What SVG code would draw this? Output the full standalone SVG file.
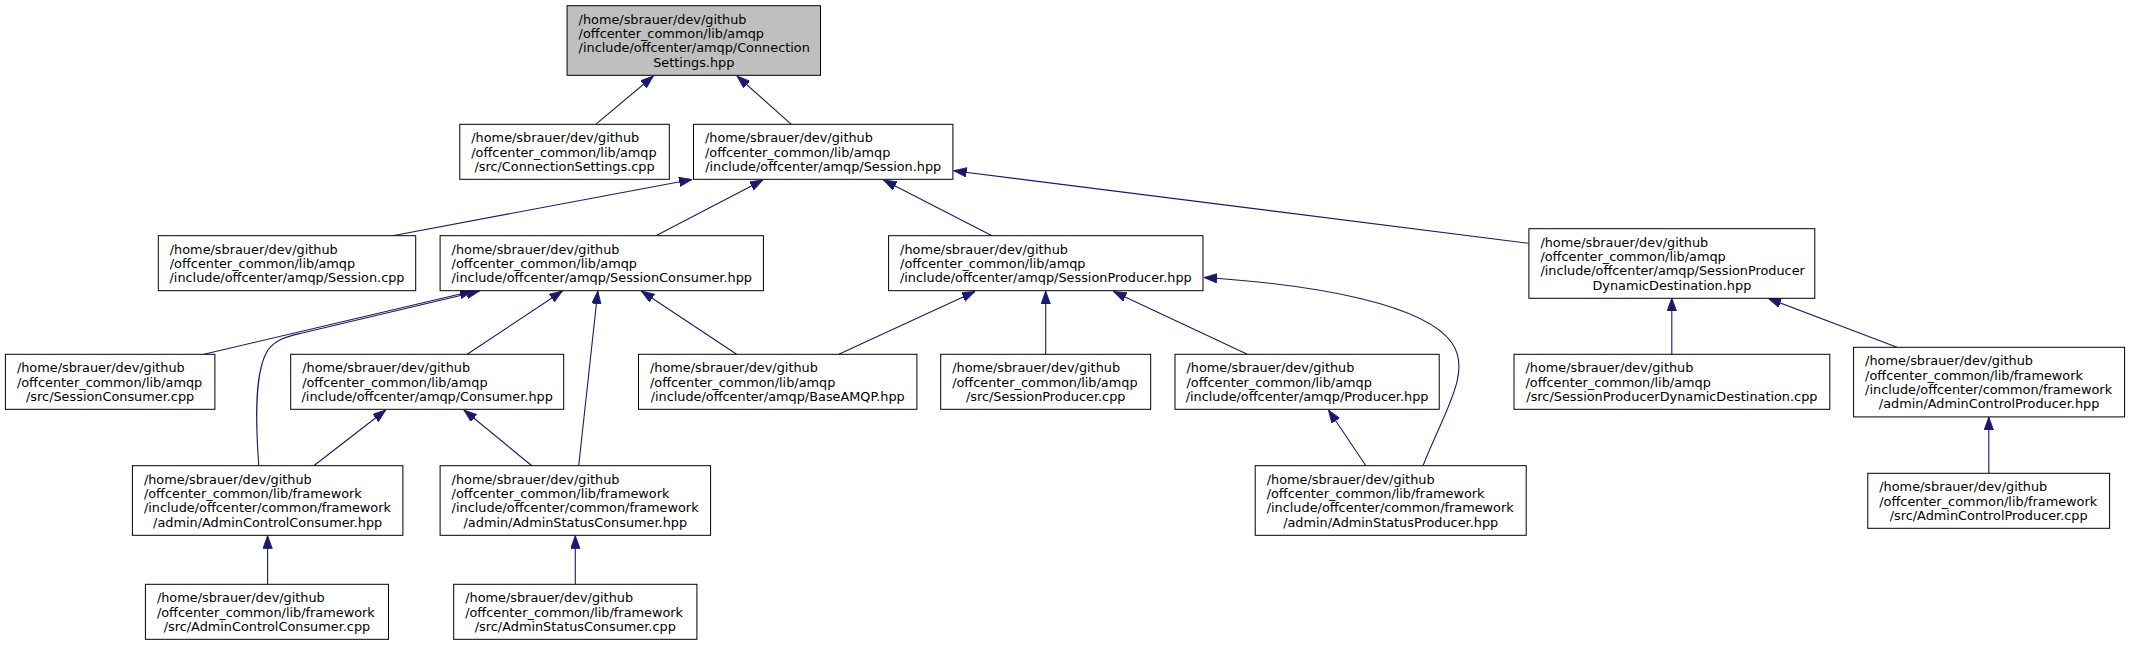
<svg xmlns="http://www.w3.org/2000/svg" width="2131" height="645" viewBox="0 0 2131 645">
<style>
.n rect{fill:#ffffff;stroke:#000000;stroke-width:1}
.n.root rect{fill:#bfbfbf}
.n text{font-family:"DejaVu Sans","Liberation Sans",sans-serif;font-size:12.85px;fill:#000000}
.n text.c{text-anchor:middle}
.e path{fill:none;stroke:#191970;stroke-width:1.1;marker-end:url(#ah)}
</style>
<defs>
<marker id="ah" markerUnits="userSpaceOnUse" markerWidth="14" markerHeight="10" refX="13" refY="4.7" orient="auto">
<path d="M0,0 L13,4.7 L0,9.4 z" fill="#191970" stroke="#191970" stroke-width="0.8"/>
</marker>
</defs>
<rect width="2131" height="645" fill="#ffffff"/>
<g id="edges" class="e">
<path d="M595.7,124.3 L653.4,76"/>
<path d="M791.3,124.3 L737,76"/>
<path d="M392.5,235.7 L692,179.5"/>
<path d="M655.8,235.7 L763,180"/>
<path d="M992,235.7 L883.5,180"/>
<path d="M1528.6,243.3 L953.6,170.7"/>
<path d="M203.9,354.3 L473,291"/>
<path d="M258.8,465.7 C255,415 255,370 268,350 C276,339 288,336.3 300,333.5 L479.5,291"/>
<path d="M467.2,354.3 L562.5,291"/>
<path d="M578.7,465.7 L597.8,291"/>
<path d="M736.6,354.3 L641.3,291"/>
<path d="M838.8,354.3 L975,291.5"/>
<path d="M1045.7,354.3 L1045.7,291"/>
<path d="M1247.3,354.3 L1113.4,291.5"/>
<path d="M1423,465.7 C1445,410 1472,372 1452,343 C1425,305 1320,285 1204,277.5"/>
<path d="M1671.8,354.3 L1671.8,298"/>
<path d="M1897,347.3 L1768,298.3"/>
<path d="M313.8,465.7 L385.8,410"/>
<path d="M531.8,465.7 L463.9,410"/>
<path d="M1365.9,465.7 L1328.5,410"/>
<path d="M267.6,584.3 L267.6,535.6"/>
<path d="M575.3,584.3 L575.3,535.6"/>
<path d="M1988.8,473.3 L1988.8,417"/>
</g>
<g id="n0" class="n root">
<rect x="567.1" y="5.7" width="253.4" height="69.6"/>
<text x="578.6" y="23.75">/home/sbrauer/dev/github</text>
<text x="578.6" y="38.05">/offcenter_common/lib/amqp</text>
<text x="578.6" y="52.35">/include/offcenter/amqp/Connection</text>
<text class="c" x="693.8" y="66.65">Settings.hpp</text>
</g>
<g id="n1" class="n">
<rect x="459.8" y="124.3" width="209.5" height="55"/>
<text x="471.3" y="142.2">/home/sbrauer/dev/github</text>
<text x="471.3" y="156.5">/offcenter_common/lib/amqp</text>
<text class="c" x="564.55" y="170.8">/src/ConnectionSettings.cpp</text>
</g>
<g id="n2" class="n">
<rect x="693.5" y="124.3" width="259.4" height="55"/>
<text x="705" y="142.2">/home/sbrauer/dev/github</text>
<text x="705" y="156.5">/offcenter_common/lib/amqp</text>
<text class="c" x="823.2" y="170.8">/include/offcenter/amqp/Session.hpp</text>
</g>
<g id="n3" class="n">
<rect x="158.3" y="235.7" width="257.4" height="55"/>
<text x="169.8" y="253.6">/home/sbrauer/dev/github</text>
<text x="169.8" y="267.9">/offcenter_common/lib/amqp</text>
<text class="c" x="287" y="282.2">/include/offcenter/amqp/Session.cpp</text>
</g>
<g id="n4" class="n">
<rect x="440.1" y="235.7" width="323.3" height="55"/>
<text x="451.6" y="253.6">/home/sbrauer/dev/github</text>
<text x="451.6" y="267.9">/offcenter_common/lib/amqp</text>
<text class="c" x="601.75" y="282.2">/include/offcenter/amqp/SessionConsumer.hpp</text>
</g>
<g id="n5" class="n">
<rect x="888.6" y="235.7" width="314.4" height="55"/>
<text x="900.1" y="253.6">/home/sbrauer/dev/github</text>
<text x="900.1" y="267.9">/offcenter_common/lib/amqp</text>
<text class="c" x="1045.8" y="282.2">/include/offcenter/amqp/SessionProducer.hpp</text>
</g>
<g id="n6" class="n">
<rect x="1528.9" y="228.7" width="285.9" height="69.6"/>
<text x="1540.4" y="246.75">/home/sbrauer/dev/github</text>
<text x="1540.4" y="261.05">/offcenter_common/lib/amqp</text>
<text x="1540.4" y="275.35">/include/offcenter/amqp/SessionProducer</text>
<text class="c" x="1671.85" y="289.65">DynamicDestination.hpp</text>
</g>
<g id="n7" class="n">
<rect x="5.4" y="354.3" width="209.5" height="55"/>
<text x="16.9" y="372.2">/home/sbrauer/dev/github</text>
<text x="16.9" y="386.5">/offcenter_common/lib/amqp</text>
<text class="c" x="110.15" y="400.8">/src/SessionConsumer.cpp</text>
</g>
<g id="n8" class="n">
<rect x="290.7" y="354.3" width="273" height="55"/>
<text x="302.2" y="372.2">/home/sbrauer/dev/github</text>
<text x="302.2" y="386.5">/offcenter_common/lib/amqp</text>
<text class="c" x="427.2" y="400.8">/include/offcenter/amqp/Consumer.hpp</text>
</g>
<g id="n9" class="n">
<rect x="638.5" y="354.3" width="278.4" height="55"/>
<text x="650" y="372.2">/home/sbrauer/dev/github</text>
<text x="650" y="386.5">/offcenter_common/lib/amqp</text>
<text class="c" x="777.7" y="400.8">/include/offcenter/amqp/BaseAMQP.hpp</text>
</g>
<g id="n10" class="n">
<rect x="940.7" y="354.3" width="210" height="55"/>
<text x="952.2" y="372.2">/home/sbrauer/dev/github</text>
<text x="952.2" y="386.5">/offcenter_common/lib/amqp</text>
<text class="c" x="1045.7" y="400.8">/src/SessionProducer.cpp</text>
</g>
<g id="n11" class="n">
<rect x="1175" y="354.3" width="264.2" height="55"/>
<text x="1186.5" y="372.2">/home/sbrauer/dev/github</text>
<text x="1186.5" y="386.5">/offcenter_common/lib/amqp</text>
<text class="c" x="1307.1" y="400.8">/include/offcenter/amqp/Producer.hpp</text>
</g>
<g id="n12" class="n">
<rect x="1514" y="354.3" width="315.8" height="55"/>
<text x="1525.5" y="372.2">/home/sbrauer/dev/github</text>
<text x="1525.5" y="386.5">/offcenter_common/lib/amqp</text>
<text class="c" x="1671.9" y="400.8">/src/SessionProducerDynamicDestination.cpp</text>
</g>
<g id="n13" class="n">
<rect x="1853.6" y="347.3" width="271" height="69.6"/>
<text x="1865.1" y="365.35">/home/sbrauer/dev/github</text>
<text x="1865.1" y="379.65">/offcenter_common/lib/framework</text>
<text x="1865.1" y="393.95">/include/offcenter/common/framework</text>
<text class="c" x="1989.1" y="408.25">/admin/AdminControlProducer.hpp</text>
</g>
<g id="n14" class="n">
<rect x="132.4" y="465.7" width="270.5" height="69.6"/>
<text x="143.9" y="483.75">/home/sbrauer/dev/github</text>
<text x="143.9" y="498.05">/offcenter_common/lib/framework</text>
<text x="143.9" y="512.35">/include/offcenter/common/framework</text>
<text class="c" x="267.65" y="526.65">/admin/AdminControlConsumer.hpp</text>
</g>
<g id="n15" class="n">
<rect x="440.1" y="465.7" width="270.5" height="69.6"/>
<text x="451.6" y="483.75">/home/sbrauer/dev/github</text>
<text x="451.6" y="498.05">/offcenter_common/lib/framework</text>
<text x="451.6" y="512.35">/include/offcenter/common/framework</text>
<text class="c" x="575.35" y="526.65">/admin/AdminStatusConsumer.hpp</text>
</g>
<g id="n16" class="n">
<rect x="1255.2" y="465.7" width="271" height="69.6"/>
<text x="1266.7" y="483.75">/home/sbrauer/dev/github</text>
<text x="1266.7" y="498.05">/offcenter_common/lib/framework</text>
<text x="1266.7" y="512.35">/include/offcenter/common/framework</text>
<text class="c" x="1390.7" y="526.65">/admin/AdminStatusProducer.hpp</text>
</g>
<g id="n17" class="n">
<rect x="1867.8" y="473.3" width="241.8" height="55"/>
<text x="1879.3" y="491.2">/home/sbrauer/dev/github</text>
<text x="1879.3" y="505.5">/offcenter_common/lib/framework</text>
<text class="c" x="1988.7" y="519.8">/src/AdminControlProducer.cpp</text>
</g>
<g id="n18" class="n">
<rect x="145.4" y="584.3" width="243.1" height="55"/>
<text x="156.9" y="602.2">/home/sbrauer/dev/github</text>
<text x="156.9" y="616.5">/offcenter_common/lib/framework</text>
<text class="c" x="266.95" y="630.8">/src/AdminControlConsumer.cpp</text>
</g>
<g id="n19" class="n">
<rect x="453.7" y="584.3" width="243.2" height="55"/>
<text x="465.2" y="602.2">/home/sbrauer/dev/github</text>
<text x="465.2" y="616.5">/offcenter_common/lib/framework</text>
<text class="c" x="575.3" y="630.8">/src/AdminStatusConsumer.cpp</text>
</g>
</svg>
